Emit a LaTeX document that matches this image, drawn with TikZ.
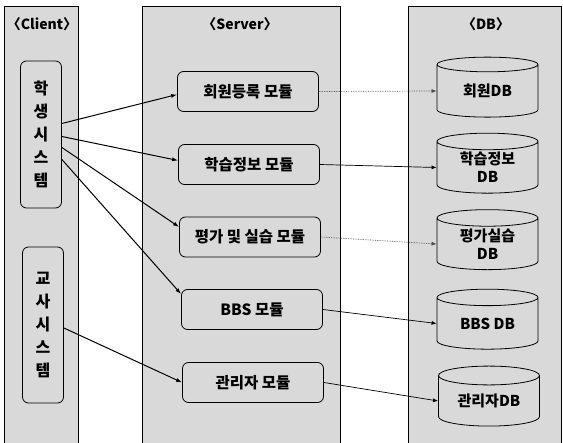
\documentclass[tikz,border=0pt]{standalone}
\usepackage{fontspec}
\setmainfont{Noto Sans CJK KR}
\usetikzlibrary{shapes.geometric,arrows.meta}

\begin{document}
\begin{tikzpicture}
[x=1pt, y=1pt, every node/.style={inner sep=0pt},
 panel/.style={rectangle, fill=gray!30, draw=black, line width=1pt},
 head/.style={font=\bfseries\fontsize{14}{16}\selectfont},
 sysbox/.style={rectangle, rounded corners=6pt, fill=gray!30, draw=black, line width=0.8pt, minimum width=41pt, align=center, font=\bfseries\fontsize{16}{23}\selectfont},
 modbox/.style={rectangle, rounded corners=6pt, fill=gray!30, draw=black, line width=0.8pt, minimum width=141pt, minimum height=40pt, font=\bfseries\fontsize{15.5}{17}\selectfont},
 dbcyl/.style={cylinder, shape border rotate=90, aspect=0.3, fill=gray!30, draw=black, line width=0.8pt, minimum width=101pt, minimum height=60pt, align=center, font=\bfseries\fontsize{15}{18}\selectfont},
 link/.style={line width=1pt, -{Latex[length=6pt,width=4pt]}},
 dblink/.style={line width=0.7pt, -{Latex[length=5pt,width=4pt]}},
 dbdotlink/.style={dblink, densely dotted, color=gray!60!black}]
\useasboundingbox (0,0) rectangle (563,-443);
% columns
\node (clientcol) [panel, minimum width=74pt, minimum height=440pt] at (41,-227) {};
\node (servercol) [panel, minimum width=198pt, minimum height=440pt] at (241,-227) {};
\node (dbcol) [panel, minimum width=153pt, minimum height=440pt] at (484.5,-227) {};
\node (clienthead) [head] at (42,-24) {〈Client〉};
\node (serverhead) [head] at (240,-24) {〈Server〉};
\node (dbhead) [head] at (486,-24) {〈DB〉};
% client
\node (stu) [sysbox, minimum height=147pt] at (41,-134.5) {학\\생\\시\\스\\템};
\node (tea) [sysbox, minimum height=156pt] at (43,-325) {교\\사\\시\\스\\템};
% server
\node (m1) [modbox] at (248,-91.5) {회원등록 모듈};
\node (m2) [modbox] at (249,-164.5) {학습정보 모듈};
\node (m3) [modbox] at (250,-237) {평가 및 실습 모듈};
\node (m4) [modbox] at (252,-309.5) {BBS 모듈};
\node (m5) [modbox] at (253,-382.5) {관리자 모듈};
% db
\node (db1) [dbcyl] at (487.5,-91) {회원DB};
\node (db2) [dbcyl] at (487.5,-167.5) {학습정보\\DB};
\node (db3) [dbcyl] at (487.5,-244) {평가실습\\DB};
\node (db4) [dbcyl] at (487.5,-323.5) {BBS DB};
\node (db5) [dbcyl] at (489,-401) {관리자DB};
\draw [link] ([yshift=11pt]stu.east) -- ([yshift=-3pt]m1.west);
\draw [link] ([yshift=-2pt]stu.east) -- ([yshift=4pt]m2.west);
\draw [link] ([yshift=-13pt]stu.east) -- ([yshift=10pt]m3.west);
\draw [link] ([yshift=-25pt]stu.east) -- ([yshift=-5pt]m4.north west);
\draw [link] ([yshift=-3pt]tea.east) -- (m5.west);
\draw [dbdotlink] (m1.east) -- (db1.west);
\draw [dblink] (m2.east) -- (db2.west);
\draw [dbdotlink] (m3.east) -- (db3.west);
\draw [dblink] (m4.east) -- (db4.west);
\draw [dblink] (m5.east) -- (db5.west);
\end{tikzpicture}
\end{document}
